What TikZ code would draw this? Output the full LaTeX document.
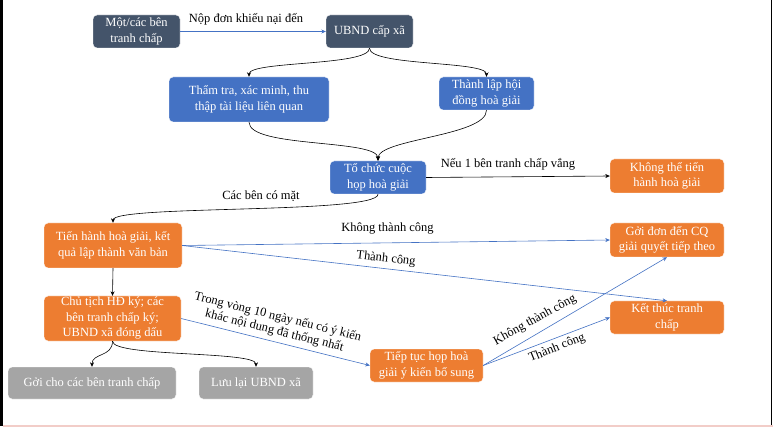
\documentclass[tikz,border=0pt]{standalone}
\usepackage{fontspec}
\setmainfont{Liberation Serif}
\usetikzlibrary{arrows.meta}
\definecolor{slate}{HTML}{44546A}
\definecolor{bluebox}{HTML}{4472C4}
\definecolor{orangebox}{HTML}{ED7D31}
\definecolor{graybox}{HTML}{A5A5A5}
\definecolor{blueline}{HTML}{4472C4}
\definecolor{pinkline}{HTML}{F2CDC8}
\tikzset{
  box/.style={rounded corners=4pt, draw=white, line width=0.4pt, text=white, align=center,
    inner sep=0pt, font=\fontsize{12.5}{15.5}\selectfont},
  slatebox/.style={box, fill=slate},
  bluenode/.style={box, fill=bluebox},
  orangenode/.style={box, fill=orangebox},
  graynode/.style={box, fill=graybox},
  blk/.style={draw=black, line width=0.6pt, -{Stealth[length=4.5pt,width=4pt]}},
  blu/.style={draw=blueline, line width=0.6pt, -{Stealth[length=4.5pt,width=4pt]}},
  lbl/.style={text=black, align=center, inner sep=0pt, font=\fontsize{12.5}{14}\selectfont},
}
\begin{document}
\begin{tikzpicture}[x=1pt,y=-1pt]
\useasboundingbox (0,0) rectangle (773,427);
\fill[white] (0,0) rectangle (773,427);
% screenshot edges
\fill[black] (0,0) rectangle (3.4,426);
\fill[black] (770.6,0) rectangle (772.4,425.5);
\fill[pinkline] (3.4,425.4) rectangle (773,427);

% nodes
\node[slatebox, minimum width=87pt, minimum height=33pt] (mot) at (136.5,31.5) {Một/các bên\\tranh chấp};
\node[slatebox, minimum width=87pt, minimum height=33pt] (ubnd) at (369.5,31.5) {UBND cấp xã};
\node[bluenode, minimum width=160pt, minimum height=45pt] (tham) at (249,99.5) {Thẩm tra, xác minh, thu\\thập tài liệu liên quan};
\node[bluenode, minimum width=95pt, minimum height=33pt] (thanh) at (486.5,93.5) {Thành lập hội\\đồng hoà giải};
\node[bluenode, minimum width=96pt, minimum height=33pt] (tochuc) at (378,177.5) {Tổ chức cuộc\\họp hoà giải};
\node[orangenode, minimum width=114pt, minimum height=34pt] (khongthe) at (667,176) {Không thể tiến\\hành hoà giải};
\node[orangenode, minimum width=138pt, minimum height=45pt] (tien) at (113,245.5) {Tiến hành hoà giải, kết\\quả lập thành văn bản};
\node[orangenode, minimum width=114pt, minimum height=34pt] (goi) at (667,240) {Gởi đơn đến CQ\\giải quyết tiếp theo};
\node[orangenode, minimum width=137pt, minimum height=45pt] (chutich) at (112.5,318.5) {Chủ tịch HĐ ký; các\\bên tranh chấp ký;\\UBND xã đóng dấu};
\node[graynode, minimum width=168pt, minimum height=32pt] (gui) at (92,383) {Gởi cho các bên tranh chấp};
\node[graynode, minimum width=114pt, minimum height=32pt] (luu) at (256,383) {Lưu lại UBND xã};
\node[orangenode, minimum width=113pt, minimum height=33pt] (tiep) at (426.5,365.5) {Tiếp tục họp hoà\\giải ý kiến bổ sung};
\node[orangenode, minimum width=114pt, minimum height=33pt] (ket) at (667,317.5) {Kết thúc tranh\\chấp};

% connectors
\draw[blu] (mot.east) -- (ubnd.west);
\draw[blk] (ubnd.south) .. controls +(0,18) and +(0,-16) .. (tham.north);
\draw[blk] (ubnd.south) .. controls +(0,18) and +(0,-16) .. (thanh.north);
\draw[blk] (tham.south) .. controls +(0,26) and +(0,-22) .. (tochuc.north);
\draw[blk] (thanh.south) .. controls +(0,26) and +(0,-22) .. (tochuc.north);
\draw[blk] (tochuc.east) -- (khongthe.west);
\draw[blk] (tochuc.south) .. controls +(0,20) and +(0,-18) .. (tien.north);
\draw[blu] (tien.east) -- (goi.west);
\draw[blu] (tien.east) -- (ket.north);
\draw[blk] (tien.south) -- (chutich.north);
\draw[blk] (chutich.south) .. controls +(0,16) and +(0,-14) .. (gui.north);
\draw[blk] (chutich.south) .. controls +(0,16) and +(0,-16) .. (luu.north);
\draw[blu] (chutich.east) -- (tiep.west);
\draw[blu] (tiep.east) -- (goi.south);
\draw[blu] (tiep.east) -- (ket.west);

% labels
\node[lbl] (l1) at (246,19) {Nộp đơn khiếu nại đến};
\node[lbl] (l2) at (508,164) {Nếu 1 bên tranh chấp vắng};
\node[lbl] (l3) at (261,196) {Các bên có mặt};
\node[lbl] (l4) at (387.5,229) {Không thành công};
\node[lbl, rotate=-6.5] (l5) at (386,259) {Thành công};
\node[lbl, rotate=-14] (l6) at (276,324) {Trong vòng 10 ngày nếu có ý kiến\\khác nội dung đã thống nhất};
\node[lbl, rotate=29] (l7) at (535,320) {Không thành công};
\node[lbl, rotate=22] (l8) at (557,348) {Thành công};
\end{tikzpicture}
\end{document}
